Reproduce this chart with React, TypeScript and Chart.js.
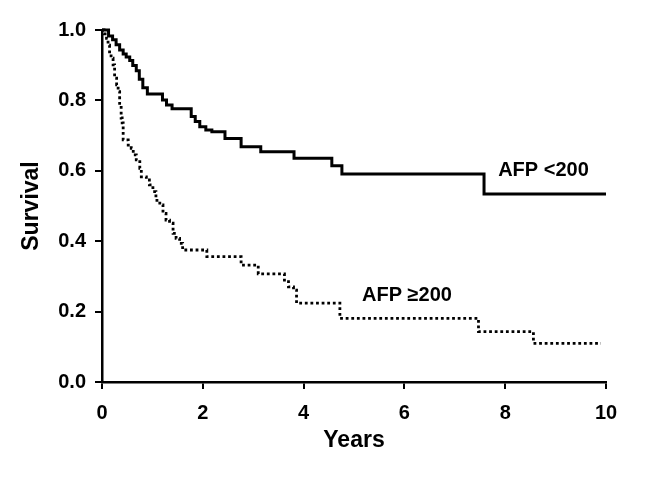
import React, { useEffect, useRef } from "react";
import Chart from "chart.js/auto";

// AFP <200 (solid)
const lowTimes = [0, 0.13, 0.21, 0.28, 0.35, 0.42, 0.48, 0.55, 0.61, 0.68, 0.74, 0.81, 0.9, 1.2, 1.28, 1.39, 1.77, 1.85, 1.94, 2.06, 2.18, 2.44, 2.76, 3.15, 3.81, 4.56, 4.76, 7.58, 10];
const lowSurv = [1, 0.983, 0.972, 0.958, 0.943, 0.932, 0.923, 0.913, 0.899, 0.884, 0.86, 0.836, 0.818, 0.801, 0.787, 0.776, 0.754, 0.74, 0.725, 0.716, 0.711, 0.692, 0.668, 0.654, 0.636, 0.614, 0.591, 0.534, 0.534];

// AFP ≥200 (dotted)
const highTimes = [0, 0.04, 0.09, 0.12, 0.15, 0.18, 0.22, 0.25, 0.29, 0.32, 0.35, 0.38, 0.4, 0.42, 0.52, 0.58, 0.62, 0.68, 0.75, 0.78, 0.88, 0.94, 1.01, 1.07, 1.09, 1.18, 1.21, 1.27, 1.34, 1.41, 1.47, 1.54, 1.6, 2.08, 2.76, 3.1, 3.62, 3.7, 3.8, 3.86, 4.72, 7.47, 8.56, 9.9];
const highSurv = [1, 0.989, 0.976, 0.957, 0.938, 0.92, 0.901, 0.863, 0.844, 0.825, 0.787, 0.75, 0.736, 0.688, 0.673, 0.664, 0.645, 0.631, 0.607, 0.583, 0.574, 0.56, 0.541, 0.522, 0.508, 0.503, 0.479, 0.46, 0.451, 0.422, 0.408, 0.394, 0.375, 0.356, 0.332, 0.307, 0.285, 0.27, 0.261, 0.224, 0.181, 0.143, 0.11, 0.11];

const seriesLabels = ["AFP <200", "AFP \u2265200"];
// label anchor positions in data units [years, survival]
const labelAnchorX = [7.86, 5.16];
const labelAnchorY = [0.602, 0.247];

const xTitle = "Years";
const yTitle = "Survival";

const FONT = '"Liberation Sans", Arial, sans-serif';

export default function App() {
  const ref = useRef<HTMLCanvasElement | null>(null);

  useEffect(() => {
    if (!ref.current) return;
    const toPts = (t: number[], s: number[]) => t.map((x, i) => ({ x, y: s[i] }));

    const labelPlugin = {
      id: "curveLabels",
      afterDatasetsDraw(chart: any) {
        const { ctx, scales } = chart;
        ctx.save();
        ctx.fillStyle = "#000";
        ctx.font = `bold 20px ${FONT}`;
        ctx.textAlign = "left";
        ctx.textBaseline = "middle";
        seriesLabels.forEach((lab, i) => {
          ctx.fillText(lab, scales.x.getPixelForValue(labelAnchorX[i]), scales.y.getPixelForValue(labelAnchorY[i]));
        });
        ctx.restore();
      },
    };

    const chart = new Chart(ref.current, {
      type: "line",
      data: {
        datasets: [
          {
            label: seriesLabels[0],
            data: toPts(lowTimes, lowSurv),
            borderColor: "#000",
            borderWidth: 3,
            pointRadius: 0,
            stepped: true,
            fill: false,
            clip: false as any,
          },
          {
            label: seriesLabels[1],
            data: toPts(highTimes, highSurv),
            borderColor: "#000",
            borderWidth: 2.8,
            borderDash: [2.8, 2.8],
            pointRadius: 0,
            stepped: true,
            fill: false,
            clip: false as any,
          },
        ],
      },
      options: {
        responsive: false,
        animation: false,
        layout: { padding: { top: 30, right: 47, left: 0, bottom: 0 } },
        plugins: { legend: { display: false }, tooltip: { enabled: false } },
        scales: {
          x: {
            type: "linear",
            min: 0,
            max: 10,
            ticks: {
              stepSize: 2,
              color: "#000",
              font: { family: FONT, size: 20, weight: "bold" },
              padding: 12,
              maxRotation: 0,
            },
            grid: { display: true, drawOnChartArea: false, drawTicks: true, tickLength: 7, color: "#000", lineWidth: 2 },
            border: { display: true, color: "#000", width: 2.5 },
            title: {
              display: true,
              text: xTitle,
              color: "#000",
              font: { family: FONT, size: 23, weight: "bold" },
              padding: { top: 0, bottom: 24 },
            },
            afterFit: (s: any) => {
              s.height = 96;
            },
          },
          y: {
            type: "linear",
            min: 0,
            max: 1,
            ticks: {
              stepSize: 0.2,
              color: "#000",
              font: { family: FONT, size: 20, weight: "bold" },
              padding: 9,
              callback: (v: any) => Number(v).toFixed(1),
            },
            grid: { display: true, drawOnChartArea: false, drawTicks: true, tickLength: 7, color: "#000", lineWidth: 2 },
            border: { display: true, color: "#000", width: 2.5 },
            title: {
              display: true,
              text: yTitle,
              color: "#000",
              font: { family: FONT, size: 23, weight: "bold" },
              padding: { top: 18, bottom: 0 },
            },
            afterFit: (s: any) => {
              s.width = 102;
            },
          },
        },
      },
      plugins: [labelPlugin],
    });
    return () => chart.destroy();
  }, []);

  return (
    <div style={{ position: "fixed", left: 0, top: 0, width: 653, height: 478, background: "#fff" }}>
      <canvas ref={ref} width={653} height={478} style={{ display: "block" }} />
    </div>
  );
}
